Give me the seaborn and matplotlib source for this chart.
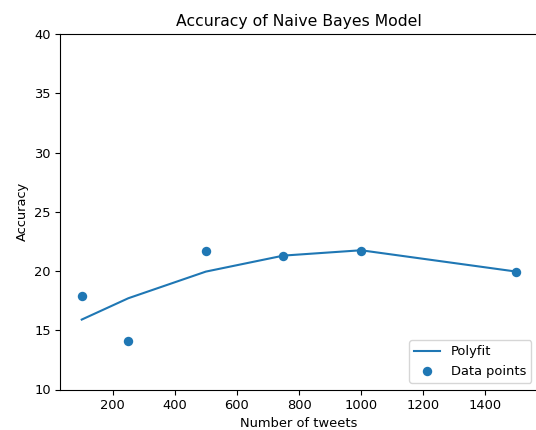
import matplotlib
matplotlib.use("Agg")
import matplotlib.pyplot as plt
import seaborn as sns
import pandas as pd

tweets = [100, 250, 500, 750, 1000, 1500]
accuracy = [17.85, 14.1, 21.65, 21.3, 21.7, 19.95]
polyfit = [15.9, 17.7, 19.95, 21.3, 21.75, 19.95]

df = pd.DataFrame({"tweets": tweets, "accuracy": accuracy, "polyfit": polyfit})

plt.rcParams["font.size"] = 9.4

fig = plt.figure(figsize=(5.36, 4.30), dpi=100)
ax = fig.add_axes([60 / 536, 40.5 / 430, 478 / 536, 355.5 / 430])

sns.lineplot(data=df, x="tweets", y="polyfit", ax=ax, color="#1f77b4",
             label="Polyfit", linewidth=1.5)
sns.scatterplot(data=df, x="tweets", y="accuracy", ax=ax, color="#1f77b4",
                s=46, linewidth=0, label="Data points")

ax.set_ylim(10, 40)
ax.set_xlim(30, 1570)
ax.spines["right"].set_visible(False)
ax.spines["top"].set_bounds(30, 1600)
ax.tick_params(pad=3.2)
ax.set_title("Accuracy of Naive Bayes Model", pad=6)
ax.set_xlabel("Number of tweets", labelpad=3.5)
ax.set_ylabel("Accuracy")
ax.legend(loc="lower right")

fig.savefig("out.png", dpi=100)
